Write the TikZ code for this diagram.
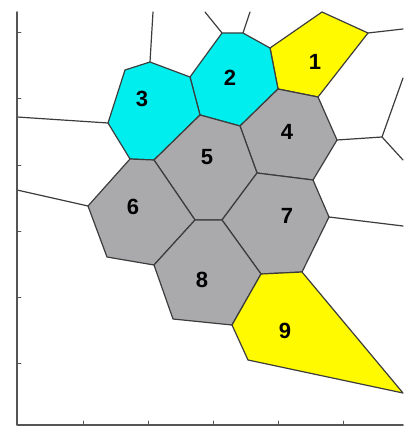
\documentclass[tikz,border=0pt]{standalone}
\usepackage{fontspec}
\setmainfont{Liberation Sans}
\definecolor{cellgray}{RGB}{170,170,173}
\definecolor{cellcyan}{RGB}{0,238,238}
\definecolor{cellyellow}{RGB}{255,250,0}
\definecolor{edgegray}{RGB}{60,60,60}
\definecolor{axisgray}{RGB}{85,85,85}
\begin{document}
\begin{tikzpicture}[
    x=1pt, y=-1pt,
    line cap=round,
    line join=round,
    edge/.style={draw=edgegray,line width=1.2pt},
    cyancell/.style={edge,fill=cellcyan},
    yellowcell/.style={edge,fill=cellyellow},
    graycell/.style={edge,fill=cellgray},
    axis/.style={draw=axisgray,line width=1.6pt},
    tick/.style={draw=axisgray,line width=0.9pt},
    label/.style={font=\fontsize{22}{22}\selectfont\bfseries}
]
\useasboundingbox (0,0) rectangle (403,427);

% -------------------------------------------------
% Vertices of the cells
% -------------------------------------------------

\coordinate (A)  at (125,70);
\coordinate (B)  at (150,62);
\coordinate (C)  at (190,77);
\coordinate (D)  at (222,33);
\coordinate (E)  at (243,33);
\coordinate (F)  at (270,48);
\coordinate (G)  at (322,12);
\coordinate (H)  at (368,33);
\coordinate (I)  at (318,97);
\coordinate (J)  at (278,89);
\coordinate (K)  at (240,126);
\coordinate (L)  at (200,115);
\coordinate (M)  at (154,160);
\coordinate (N)  at (130,159);
\coordinate (O)  at (108,123);
\coordinate (P)  at (337,140);
\coordinate (Q)  at (313,180);
\coordinate (R)  at (257,173);
\coordinate (S)  at (222,220);
\coordinate (T)  at (195,220);
\coordinate (U)  at (154,265);
\coordinate (V)  at (107,257);
\coordinate (W)  at (88,206);
\coordinate (X)  at (329,217);
\coordinate (Y)  at (302,272);
\coordinate (Z)  at (261,274);
\coordinate (AA) at (232,325);
\coordinate (AB) at (173,319);
\coordinate (AC) at (403,393);
\coordinate (AD) at (248,360);
\coordinate (AE) at (382,137);

% -------------------------------------------------
% Open edges (to the border of the plot)
% -------------------------------------------------

\draw[edge] (O)  -- (17,117);
\draw[edge] (W)  -- (17,190);
\draw[edge] (B)  -- (153,12);
\draw[edge] (D)  -- (205,12);
\draw[edge] (E)  -- (250,12);
\draw[edge] (H)  -- (403,29);
\draw[edge] (P)  -- (AE);
\draw[edge] (AE) -- (403,78);
\draw[edge] (AE) -- (403,160);
\draw[edge] (X)  -- (403,226);

% -------------------------------------------------
% Cells
% -------------------------------------------------

\draw[yellowcell] (F)--(G)--(H)--(I)--(J)--cycle;
\draw[cyancell]   (C)--(D)--(E)--(F)--(J)--(K)--(L)--cycle;
\draw[cyancell]   (A)--(B)--(C)--(L)--(M)--(N)--(O)--cycle;
\draw[graycell]   (K)--(J)--(I)--(P)--(Q)--(R)--cycle;
\draw[graycell]   (M)--(L)--(K)--(R)--(S)--(T)--cycle;
\draw[graycell]   (N)--(M)--(T)--(U)--(V)--(W)--cycle;
\draw[graycell]   (R)--(Q)--(X)--(Y)--(Z)--(S)--cycle;
\draw[graycell]   (T)--(S)--(Z)--(AA)--(AB)--(U)--cycle;
\draw[yellowcell] (Z)--(Y)--(AC)--(AD)--(AA)--cycle;

% -------------------------------------------------
% Numbers
% -------------------------------------------------

\node[label] (n1) at (315,62)  {1};
\node[label] (n2) at (230,78)  {2};
\node[label] (n3) at (142,99)  {3};
\node[label] (n4) at (287,132) {4};
\node[label] (n5) at (207,157) {5};
\node[label] (n6) at (133,207) {6};
\node[label] (n7) at (287,216) {7};
\node[label] (n8) at (202,280) {8};
\node[label] (n9) at (285,331) {9};

% -------------------------------------------------
% Axes
% -------------------------------------------------

\draw[axis] (17,12) -- (17,425) -- (403,425);
\foreach \y in {32,98,165,231,297,363}
  \draw[tick] (17,\y) -- (21,\y);
\foreach \x in {83,148,213,278,343}
  \draw[tick] (\x,425) -- (\x,421);
\end{tikzpicture}
\end{document}
